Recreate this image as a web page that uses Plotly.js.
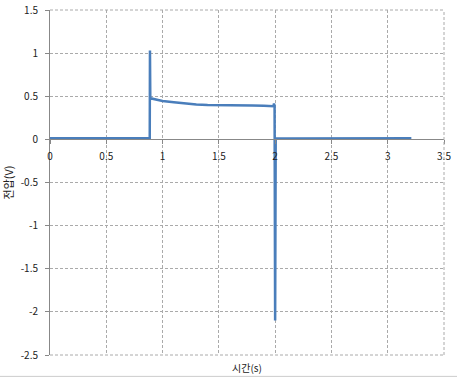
<!DOCTYPE html>
<html><head><meta charset="utf-8">
<script src="https://cdn.plot.ly/plotly-3.0.1.min.js"></script>
<style>html,body{margin:0;padding:0;background:#fff}#c{width:457px;height:378px}</style>
</head><body><div id="c"></div>
<script>
const timeS = [0, 0.1, 0.2, 0.3, 0.4, 0.5, 0.6, 0.7, 0.8, 0.886, 0.888, 0.889, 0.891, 0.895, 0.9, 0.95, 1.0, 1.1, 1.2, 1.3, 1.4, 1.5, 1.6, 1.7, 1.8, 1.9, 1.96, 1.985, 1.99, 1.995, 2.0, 2.005, 2.1, 2.3, 2.5, 2.7, 2.9, 3.1, 3.21];
const voltage = [0.012, 0.011, 0.013, 0.012, 0.011, 0.012, 0.013, 0.012, 0.012, 0.013, 1.03, 0.45, 0.48, 0.47, 0.475, 0.46, 0.445, 0.43, 0.415, 0.405, 0.40, 0.40, 0.398, 0.395, 0.393, 0.39, 0.388, 0.385, 0.415, 0.39, -2.1, 0.012, 0.011, 0.012, 0.011, 0.012, 0.012, 0.011, 0.012];
const xTicks = [0, 0.5, 1, 1.5, 2, 2.5, 3, 3.5];
const yTicks = [-2.5, -2, -1.5, -1, -0.5, 0, 0.5, 1, 1.5];
const xTitle = '시간(s)';
const yTitle = '전압(V)';

const font = {family: '"Noto Sans CJK KR", "DejaVu Sans", sans-serif', size: 10, color: '#222'};
const gridDash = '3px,2px';
Plotly.newPlot('c', [{
  x: timeS, y: voltage, type: 'scatter', mode: 'lines',
  line: {color: '#4a7ebb', width: 2.5}, hoverinfo: 'skip'
}], {
  width: 457, height: 378,
  margin: {l: 50, r: 13, t: 10, b: 23},
  paper_bgcolor: '#fff', plot_bgcolor: '#fff',
  showlegend: false,
  font: font,
  xaxis: {
    range: [0, 3.5], tickvals: xTicks, ticktext: xTicks.map(String),
    showgrid: true, gridcolor: '#aaa', griddash: gridDash, gridwidth: 1,
    zeroline: false, showline: true, linecolor: '#888', linewidth: 1,
    anchor: 'free', position: 0.625,
    ticks: 'outside', ticklen: 4, tickcolor: '#888', ticklabelstandoff: 4,
    tickfont: font
  },
  yaxis: {
    range: [-2.5, 1.5], tickvals: yTicks, ticktext: yTicks.map(String),
    showgrid: true, gridcolor: '#aaa', griddash: gridDash, gridwidth: 1,
    zeroline: false, showline: true, linecolor: '#888', linewidth: 1,
    ticks: 'outside', ticklen: 4, tickcolor: '#888', ticklabelstandoff: 5,
    tickfont: font,
    title: {text: yTitle, font: {family: font.family, size: 11, color: '#222'}, standoff: 8}
  },
  annotations: [{
    text: xTitle, xref: 'paper', yref: 'paper', x: 0.5, y: 0,
    xanchor: 'center', yanchor: 'top', yshift: -3, showarrow: false,
    font: {family: font.family, size: 10, color: '#222'}
  }],
  shapes: [
    {type: 'line', xref: 'paper', yref: 'paper', x0: 1, x1: 1, y0: 0, y1: 1, line: {color: '#aaa', width: 1, dash: gridDash}},
    {type: 'line', xref: 'paper', yref: 'paper', x0: 0, x1: 1, y0: 1, y1: 1, line: {color: '#aaa', width: 1, dash: gridDash}},
    {type: 'line', xref: 'paper', yref: 'paper', x0: 0, x1: 1, y0: 0, y1: 0, line: {color: '#aaa', width: 1, dash: gridDash}},
    {type: 'line', xref: 'paper', yref: 'paper', x0: -0.2, x1: 1.1, y0: -0.062, y1: -0.062, line: {color: '#ccc', width: 1}}
  ]
}, {displayModeBar: false, staticPlot: true});
</script></body></html>
